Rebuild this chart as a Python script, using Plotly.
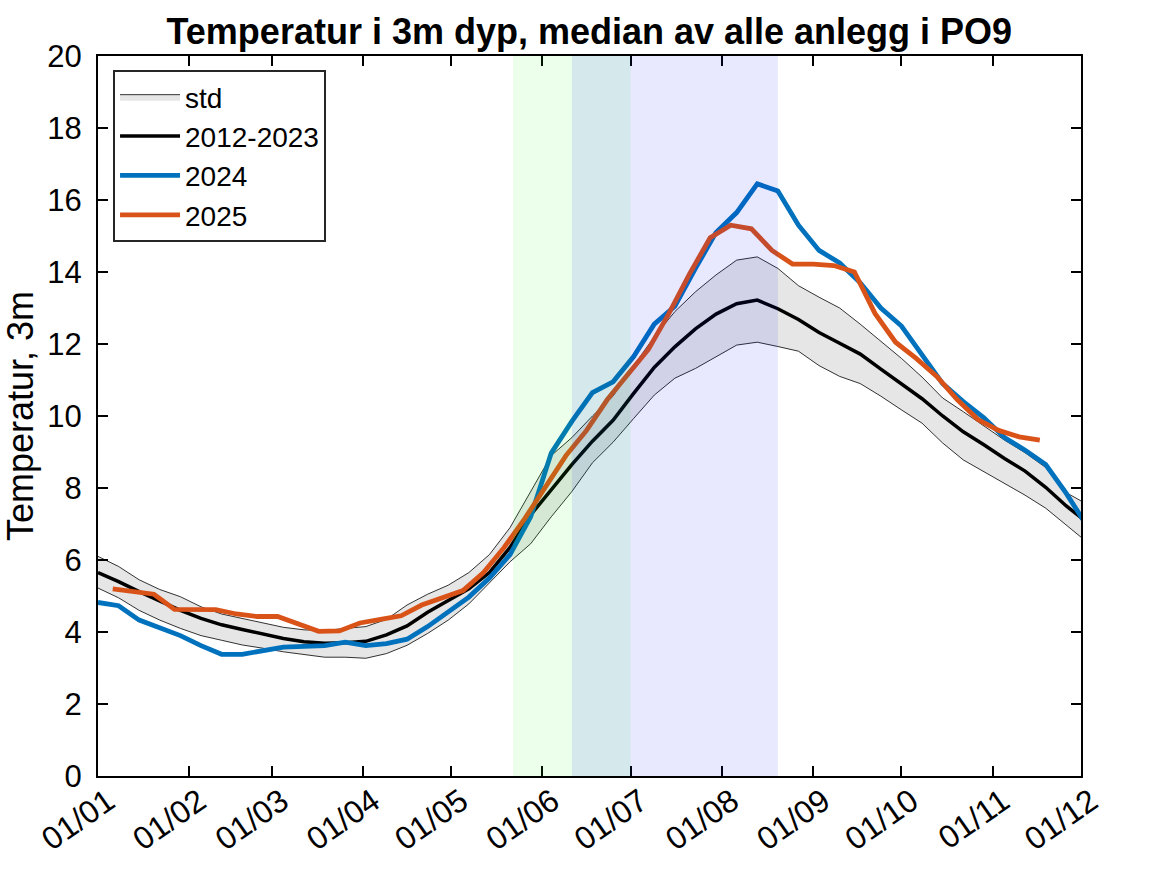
import pandas as pd
import plotly.graph_objects as go

# ---- data (weekly values, x = day-of-year mapped onto a non-leap year) ----
base_start = "2023-01-01"      # median / std / 2024 start (week 1)
start_2025 = "2023-01-06"      # 2025 weekly series start

median_vals = [5.65, 5.40, 5.12, 4.85, 4.60, 4.38, 4.20, 4.07, 3.94, 3.82,
               3.73, 3.69, 3.70, 3.74, 3.92, 4.17, 4.55, 4.87, 5.20, 5.65,
               6.35, 7.25, 7.95, 8.65, 9.30, 9.88, 10.63, 11.35, 11.92, 12.42,
               12.83, 13.12, 13.22, 12.98, 12.68, 12.32, 12.02, 11.72, 11.30, 10.90,
               10.48, 10.00, 9.56, 9.20, 8.82, 8.47, 8.02, 7.50, 7.05]
std_upper = [6.10, 5.82, 5.45, 5.18, 4.98, 4.70, 4.50, 4.38, 4.25, 4.13,
             4.06, 4.04, 4.10, 4.15, 4.35, 4.75, 5.05, 5.30, 5.65, 6.15,
             6.90, 7.90, 8.90, 9.40, 10.00, 10.55, 11.40, 12.20, 12.90, 13.45,
             13.92, 14.33, 14.42, 14.10, 13.62, 13.30, 13.00, 12.55, 12.08, 11.60,
             11.08, 10.50, 10.12, 9.72, 9.33, 8.98, 8.57, 7.87, 7.55]
std_lower = [5.22, 4.95, 4.60, 4.33, 4.10, 3.90, 3.77, 3.64, 3.55, 3.45,
             3.37, 3.30, 3.30, 3.27, 3.40, 3.63, 3.96, 4.33, 4.78, 5.35,
             5.95, 6.45, 7.20, 7.90, 8.70, 9.27, 9.93, 10.58, 11.05, 11.32,
             11.65, 11.97, 12.05, 11.93, 11.80, 11.40, 11.10, 10.90, 10.55, 10.17,
             9.80, 9.25, 8.78, 8.45, 8.13, 7.80, 7.44, 6.98, 6.50]
vals_2024 = [4.82, 4.73, 4.33, 4.12, 3.90, 3.62, 3.38, 3.38, 3.48, 3.58,
             3.60, 3.62, 3.72, 3.62, 3.68, 3.80, 4.15, 4.55, 4.97, 5.50,
             6.15, 7.20, 8.97, 9.85, 10.65, 10.95, 11.65, 12.55, 13.05, 14.10,
             15.10, 15.65, 16.45, 16.25, 15.30, 14.60, 14.25, 13.70, 13.00, 12.50,
             11.70, 10.90, 10.40, 9.95, 9.40, 9.05, 8.65, 7.85, 6.95]
vals_2025 = [5.20, 5.12, 5.05, 4.63, 4.63, 4.62, 4.50, 4.43, 4.43, 4.22,
             4.02, 4.03, 4.25, 4.35, 4.45, 4.75, 4.95, 5.15, 5.65, 6.35,
             7.15, 8.00, 8.90, 9.60, 10.45, 11.15, 11.85, 12.85, 13.95, 14.95,
             15.30, 15.20, 14.60, 14.22, 14.22, 14.18, 14.00, 12.85, 12.05, 11.60,
             11.10, 10.45, 9.90, 9.60, 9.42, 9.33]

periods = [("2023-05-22", "2023-07-01", "rgba(0,255,0,0.08)"),
           ("2023-06-11", "2023-08-20", "rgba(0,0,255,0.09)")]

tick_dates = pd.date_range("2023-01-01", "2023-12-01", freq="MS")
tick_text = [d.strftime("%d/%m") for d in tick_dates]
y_ticks = list(range(0, 21, 2))

x_base = pd.date_range(base_start, periods=len(median_vals), freq="7D")
x_2025 = pd.date_range(start_2025, periods=len(vals_2025), freq="7D")

FONT = "Liberation Sans, Arial, Helvetica, sans-serif"

fig = go.Figure()
fig.add_trace(go.Scatter(
    x=list(x_base) + list(x_base[::-1]),
    y=std_upper + std_lower[::-1],
    fill="toself", fillcolor="rgb(230,230,230)",
    line=dict(color="black", width=0.8),
    mode="lines", name="std"))
fig.add_trace(go.Scatter(x=x_base, y=median_vals, mode="lines",
                         line=dict(color="black", width=3.5), name="2012-2023"))
fig.add_trace(go.Scatter(x=x_base, y=vals_2024, mode="lines",
                         line=dict(color="#0072BD", width=4.8), name="2024"))
fig.add_trace(go.Scatter(x=x_2025, y=vals_2025, mode="lines",
                         line=dict(color="#D95319", width=4.8), name="2025"))

for x0, x1, col in periods:
    fig.add_shape(type="rect", xref="x", yref="y", x0=x0, x1=x1, y0=0, y1=20,
                  fillcolor=col, line=dict(width=0), layer="above")

fig.update_layout(
    width=1167, height=875,
    margin=dict(l=98, r=86, t=56, b=99),
    paper_bgcolor="white", plot_bgcolor="white",
    font=dict(family=FONT, size=28, color="black"),
    title=dict(text="<b>Temperatur i 3m dyp, median av alle anlegg i PO9</b>",
               x=0.505, xanchor="center", y=0.964, yanchor="middle",
               font=dict(size=36, family=FONT, color="black")),
    showlegend=True,
    legend=dict(x=0.0153, y=0.9806, xanchor="left", yanchor="top",
                bgcolor="white", bordercolor="#262626", borderwidth=2,
                font=dict(size=28, family=FONT), itemwidth=60,
                tracegroupgap=0),
)
fig.update_xaxes(
    range=["2023-01-01", "2023-12-01"], tickvals=tick_dates, ticktext=tick_text,
    tickangle=-35, ticks="inside", ticklen=10, tickwidth=2, tickcolor="black",
    showline=True, linecolor="black", linewidth=2.2, mirror="ticks",
    showgrid=False, zeroline=False, tickfont=dict(size=32),
    ticklabelstandoff=-8, ticklabelshift=10)
fig.update_yaxes(
    range=[0, 20], tickvals=y_ticks, ticks="inside", ticklen=10, tickwidth=2,
    tickcolor="black", showline=True, linecolor="black", linewidth=2.2,
    mirror="ticks", showgrid=False, zeroline=False, tickfont=dict(size=31),
    ticklabelstandoff=8,
    title=dict(text="Temperatur, 3m", font=dict(size=36), standoff=8))

fig.write_html("out.html")
